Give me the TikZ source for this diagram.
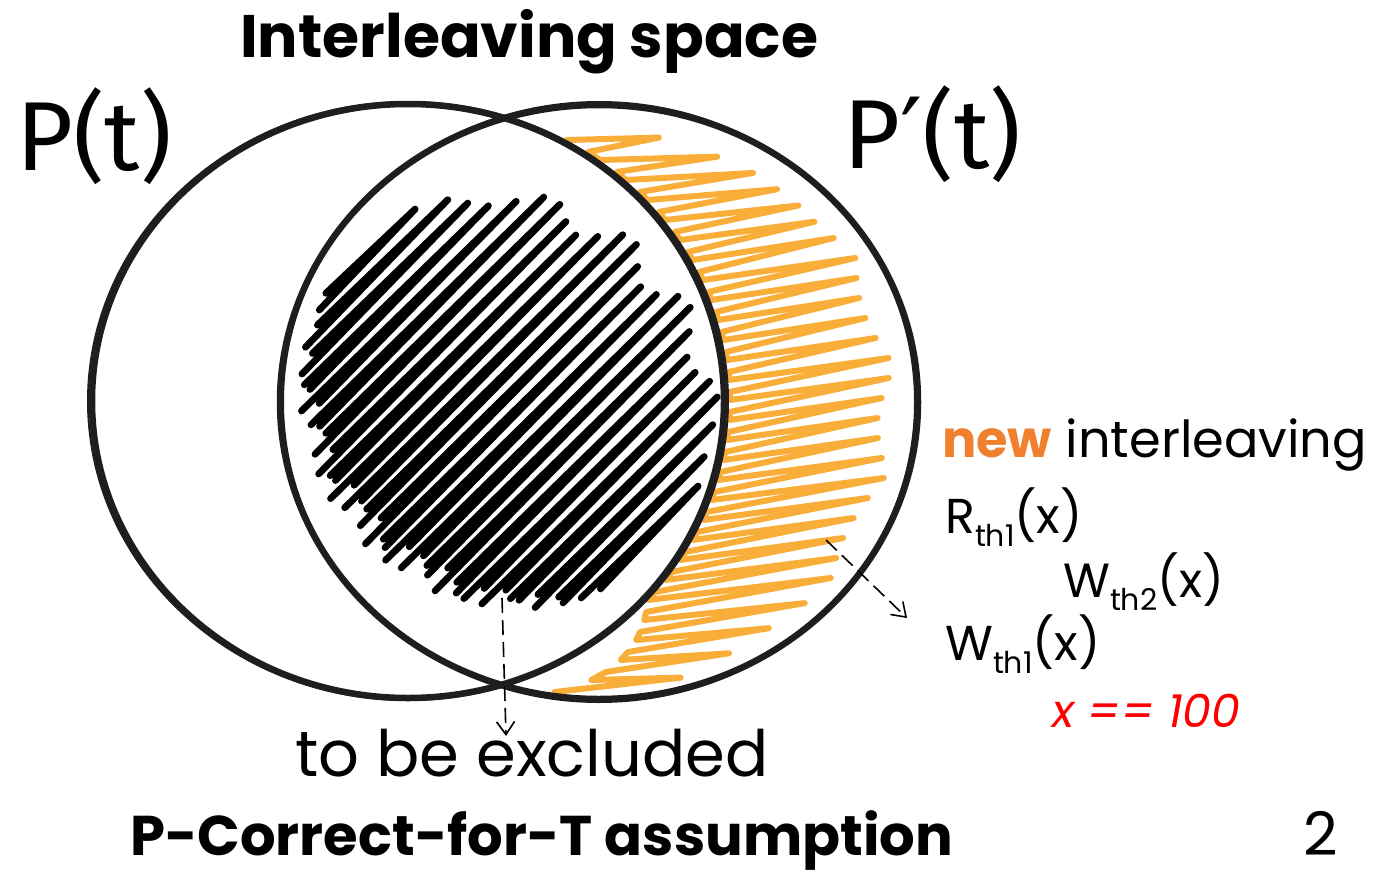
\documentclass[tikz,border=0pt]{standalone}
\usepackage{fontspec}
\setmainfont{Poppins}
\newfontfamily\handfont{Fira Sans}
\newfontfamily\primefont{DejaVu Sans}
\usepackage{xcolor}
\usetikzlibrary{arrows.meta}

\definecolor{inkblack}{HTML}{1E1E1E}
\definecolor{scribbleorange}{HTML}{F9AE3A}
\definecolor{neworange}{HTML}{F07F2E}

\newcommand{\thsub}[1]{\raisebox{-13pt}{\fontsize{30}{30}\selectfont #1}}

\tikzset{
  setline/.style={draw=inkblack, line width=6.5pt},
  setsketch/.style={draw=inkblack, line width=2pt},
  inkscribble/.style={draw=black, line width=6.8pt, line cap=round, line join=round},
  newscribble/.style={draw=scribbleorange, line width=6pt, line cap=round, line join=round},
  pointer/.style={draw=black, line width=1.6pt, dash pattern=on 15pt off 7pt,
    -{Straight Barb[length=13pt, width=18pt, line width=1.6pt]}},
  label/.style={inner sep=0pt, anchor=base west}
}

\begin{document}
\begin{tikzpicture}[x=1pt, y=-1pt,
  declare function={
    bs(\j)=-205+16.5*floor(\j/3)+3.6*mod(\j,3);
    bh(\j)=(mod(\j,3)==1 ? 1 : -1)*(0.88+0.07*sin(\j*97))*214*sqrt(max(0,1-(bs(\j)/214)^2));
    ob(\j)=140+20*floor(\j/3);
    otilt(\j)=28*min(1,max(0.3,(ob(\j)-110)/150))*min(1,max(0.3,(710-ob(\j))/110));
    oy(\j)=ob(\j)+6*mod(\j,3)-(mod(\j,3)==1 ? otilt(\j) : 0);
    ox(\j)=(mod(\j,3)==1 ?
      599+319*sqrt(max(0,1-((oy(\j)-402)/297)^2))-22-18*abs(sin(\j*131))-0.8*max(0,200-oy(\j))
      : 414+316*sqrt(max(0,1-((oy(\j)-400)/297)^2))+0.9*max(0,oy(\j)-600));
  }]
  \useasboundingbox (0,0) rectangle (1393,873);

  % black scribble (the part to be excluded), one narrow V per stroke
  \foreach \k [evaluate=\k as \ja using int(3*\k), evaluate=\k as \jb using int(3*\k+1),
               evaluate=\k as \jc using int(3*\k+2)] in {0,...,24}{
    \draw[inkscribble] plot[variable=\j, samples at={\ja,\jb,\jc}]
      ({509+0.707*bs(\j)+0.707*bh(\j)}, {400+0.707*bs(\j)-0.707*bh(\j)});
  }

  % orange scribble (new interleavings)
  \draw[newscribble] plot[variable=\j, samples at={0,...,83}] ({ox(\j)}, {oy(\j)});

  % the two sets
  \node[draw=none, inner sep=0pt] (Pset) at (408,401) {};
  \node[draw=none, inner sep=0pt] (Pnewset) at (599,402) {};
  \draw[setline] (Pset) ellipse [x radius=316, y radius=297];
  \draw[setsketch] (Pset) ellipse [x radius=320, y radius=299];
  \draw[setline] (Pnewset) ellipse [x radius=319, y radius=297];
  \draw[setsketch] (Pnewset) ellipse [x radius=316, y radius=300];

  % labels
  \node[label] (title) at (240,57) {\fontsize{60}{70}\selectfont\bfseries Interleaving space};
  \node[label] (Pt) at (16,170) {\fontsize{98}{98}\selectfont\handfont P(t)};
  \node[label] (Ppt) at (843,168) {\fontsize{98}{98}\selectfont\handfont P{\primefont ′}(t)};
  \node[label] (newlabel) at (942,457) {\fontsize{51}{60}\selectfont\textcolor{neworange}{\bfseries new} interleaving};
  \node[label] (rd1) at (945,533) {\fontsize{49}{50}\selectfont R\thsub{th1}(x)};
  \node[label] (wr2) at (1063,597) {\fontsize{48}{50}\selectfont W\thsub{th2}(x)};
  \node[label] (wr1) at (945,660) {\fontsize{49}{50}\selectfont W\thsub{th1}(x)};
  \node[label] (xval) at (1052,727) {\fontsize{46}{50}\selectfont\color{red}\itshape x == 100};
  \node[label] (excluded) at (295,776) {\fontsize{64}{70}\selectfont to be excluded};
  \node[label] (assume) at (130,855) {\fontsize{56}{60}\selectfont\bfseries P-Correct-for-T assumption};
  \node[label] (page) at (1303,855) {\fontsize{60}{60}\selectfont 2};

  % pointers
  \coordinate (lens) at (502,598);
  \coordinate (excl tip) at (506,736);
  \coordinate (crescent) at (826,540);
  \coordinate (new tip) at (907,618);
  \draw[pointer] (lens) -- (excl tip);
  \draw[pointer] (crescent) -- (new tip);

\end{tikzpicture}
\end{document}
